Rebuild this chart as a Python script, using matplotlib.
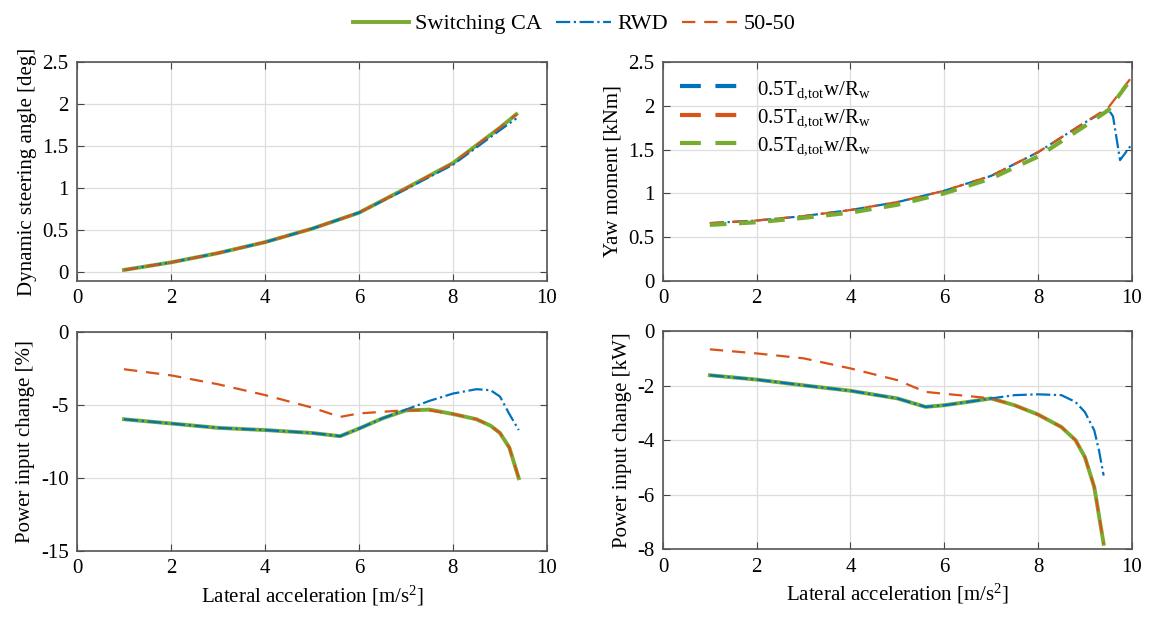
import matplotlib
matplotlib.use('Agg')
import matplotlib.pyplot as plt

plt.rcParams['font.family'] = ['Liberation Serif', 'DejaVu Serif']
plt.rcParams['mathtext.fontset'] = 'custom'
plt.rcParams['mathtext.rm'] = 'Liberation Serif'
plt.rcParams['mathtext.it'] = 'Liberation Serif'
plt.rcParams['font.size'] = 15

green = '#77ac30'
blue = '#0072bd'
orange = '#d95319'

# steering angle [deg]
x_steer = [1, 2, 3, 4, 5, 6, 7, 8, 9, 9.35]
steer_ca = [0.03, 0.12, 0.23, 0.36, 0.52, 0.71, 1.0, 1.3, 1.72, 1.88]
steer_rwd = [0.03, 0.12, 0.23, 0.36, 0.52, 0.71, 0.99, 1.28, 1.69, 1.83]
steer_5050 = [0.03, 0.12, 0.23, 0.36, 0.52, 0.71, 1.0, 1.3, 1.72, 1.88]

# yaw moment [kNm]
x_yaw = [1, 2, 3, 4, 5, 6, 7, 8, 9, 9.5, 10]
yaw_ca = [0.64, 0.67, 0.72, 0.78, 0.87, 1.0, 1.17, 1.42, 1.77, 1.95, 2.32]
yaw_5050 = [0.66, 0.69, 0.74, 0.81, 0.9, 1.03, 1.2, 1.47, 1.81, 1.98, 2.33]
x_yaw_rwd = [1, 2, 3, 4, 5, 6, 7, 8, 9, 9.5, 9.6, 9.75, 10]
yaw_rwd = [0.66, 0.69, 0.74, 0.81, 0.9, 1.03, 1.2, 1.47, 1.81, 1.96, 1.88, 1.38, 1.56]

# power input change [%]
x_pw = [1, 2, 3, 4, 5, 5.6, 6, 6.5, 7, 7.5, 8, 8.5, 8.8, 9, 9.2, 9.4]
pct_ca = [-5.96, -6.25, -6.55, -6.7, -6.9, -7.12, -6.6, -5.9, -5.35, -5.3, -5.6, -5.96, -6.4, -6.9, -7.9, -10.0]
pct_rwd = [-5.96, -6.25, -6.55, -6.7, -6.9, -7.12, -6.6, -5.9, -5.3, -4.7, -4.2, -3.9, -3.97, -4.4, -5.6, -6.7]
pct_5050 = [-2.53, -2.95, -3.56, -4.3, -5.16, -5.8, -5.56, -5.45, -5.34, -5.35, -5.6, -5.96, -6.4, -6.9, -7.9, -10.0]

# power input change [kW]
kw_ca = [-1.62, -1.78, -1.99, -2.19, -2.47, -2.78, -2.72, -2.6, -2.47, -2.72, -3.06, -3.52, -4.0, -4.62, -5.72, -7.8]
x_kw_rwd = [1, 2, 3, 4, 5, 5.6, 6, 6.5, 7, 7.5, 8, 8.5, 8.8, 9, 9.2, 9.3, 9.4]
kw_rwd = [-1.62, -1.78, -1.99, -2.19, -2.47, -2.78, -2.72, -2.6, -2.47, -2.35, -2.32, -2.35, -2.6, -2.97, -3.64, -4.37, -5.3]
kw_5050 = [-0.67, -0.82, -1.0, -1.37, -1.8, -2.23, -2.3, -2.38, -2.47, -2.72, -3.06, -3.52, -4.0, -4.62, -5.72, -7.8]

fig = plt.figure(figsize=(11.49, 6.27), dpi=100)
ax1 = fig.add_axes([0.067, 0.552, 0.409, 0.349])
ax2 = fig.add_axes([0.577, 0.552, 0.408, 0.349])
ax3 = fig.add_axes([0.067, 0.121, 0.409, 0.349])
ax4 = fig.add_axes([0.577, 0.124, 0.408, 0.348])

ax1.plot(x_steer, steer_ca, color=green, lw=2.8)
ax1.plot(x_steer, steer_rwd, color=blue, lw=1.6, ls='-.')
ax1.plot(x_steer, steer_5050, color=orange, lw=1.6, ls=(0, (6, 4)))

ax2.plot(x_yaw_rwd, yaw_rwd, color=blue, lw=1.6, ls='-.')
ax2.plot(x_yaw, yaw_5050, color=orange, lw=1.6, ls=(0, (6, 4)))
ax2.plot(x_yaw, yaw_ca, color=green, lw=3, ls=(0, (4, 3)))

ca, = ax3.plot(x_pw, pct_ca, color=green, lw=2.8)
rwd, = ax3.plot(x_pw, pct_rwd, color=blue, lw=1.6, ls='-.')
ff, = ax3.plot(x_pw, pct_5050, color=orange, lw=1.6, ls=(0, (6, 4)))

ax4.plot(x_pw, kw_ca, color=green, lw=2.8)
ax4.plot(x_kw_rwd, kw_rwd, color=blue, lw=1.6, ls='-.')
ax4.plot(x_pw, kw_5050, color=orange, lw=1.6, ls=(0, (6, 4)))

ax1.set_ylim(-0.1, 2.5)
ax1.set_yticks([0, 0.5, 1, 1.5, 2, 2.5])
ax1.set_ylabel('Dynamic steering angle [deg]')

ax2.set_ylim(0, 2.5)
ax2.set_yticks([0, 0.5, 1, 1.5, 2, 2.5])
ax2.set_ylabel('Yaw moment [kNm]')

ax3.set_ylim(-15, 0)
ax3.set_yticks([-15, -10, -5, 0])
ax3.set_ylabel('Power input change [%]')
ax3.set_xlabel('Lateral acceleration [m/s$^2$]')

ax4.set_ylim(-8, 0)
ax4.set_yticks([-8, -6, -4, -2, 0])
ax4.set_ylabel('Power input change [kW]')
ax4.set_xlabel('Lateral acceleration [m/s$^2$]')

for ax in [ax1, ax2, ax3, ax4]:
    ax.set_xlim(0, 10)
    ax.set_xticks([0, 2, 4, 6, 8, 10])
    ax.grid(True, color='#dddddd', lw=0.9)
    ax.set_axisbelow(True)
    ax.tick_params(direction='in', top=True, right=True, length=5, color='#444444', pad=6)
    for s in ax.spines.values():
        s.set_color('#555555')
        s.set_linewidth(1.2)
    ax.yaxis.set_major_formatter(matplotlib.ticker.FuncFormatter(lambda v, p: '%g' % v))
    ax.xaxis.set_major_formatter(matplotlib.ticker.FuncFormatter(lambda v, p: '%g' % v))

lab = r'0.5T$_{\mathrm{d,\!tot}}$w/R$_{\mathrm{w}}$'
h1, = ax2.plot([], [], color=blue, lw=3, ls=(0, (5, 3.5)))
h2, = ax2.plot([], [], color=orange, lw=3, ls=(0, (5, 3.5)))
h3, = ax2.plot([], [], color=green, lw=3, ls=(0, (5, 3.5)))
ax2.legend([h1, h2, h3], [lab, lab, lab], loc='upper left', frameon=False,
           handlelength=2.9, fontsize=15, borderaxespad=0.4, labelspacing=0.3)

fig.legend([ca, rwd, ff], ['Switching CA', 'RWD', '50-50'], loc='upper center',
           bbox_to_anchor=(0.5, 1.01), ncol=3, frameon=False, fontsize=16,
           handlelength=2.5, columnspacing=0.6, handletextpad=0.3)

fig.savefig('out.png', dpi=100)
